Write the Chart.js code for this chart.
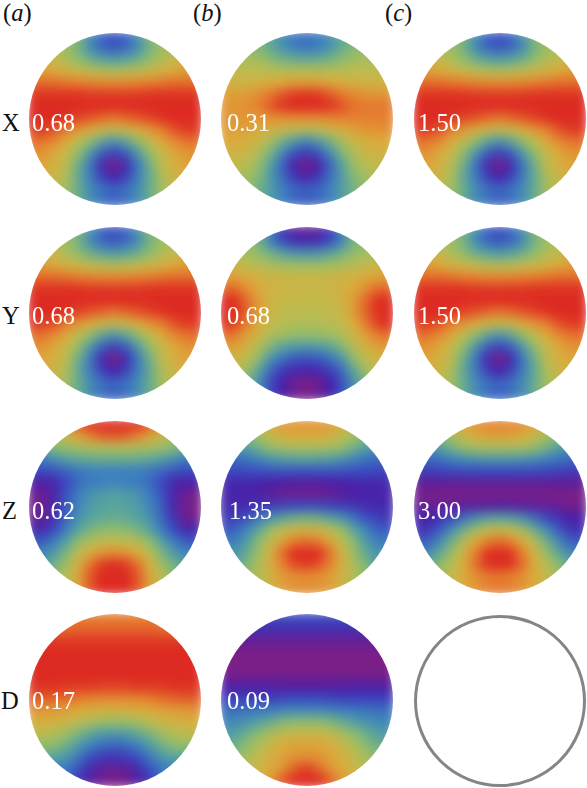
<!DOCTYPE html>
<html>
<head>
<meta charset="utf-8">
<script src="https://cdn.jsdelivr.net/npm/chart.js@4"></script>
<style>
  html, body { margin: 0; padding: 0; background: #fff; }
  #page { position: relative; width: 587px; height: 788px; overflow: hidden; font-family: "Liberation Serif", serif; }
  .disc { position: absolute; width: 172px; height: 172px; border-radius: 50%; overflow: hidden; }
  .disc canvas { position: absolute; left: -12px; top: -12px; filter: blur(5.5px); }
  .ring { position: absolute; left: 414px; top: 615px; width: 166px; height: 166px; border: 3px solid #858585; border-radius: 50%; }
  .txt { position: absolute; font-size: 24.5px; line-height: 24px; color: #111; white-space: nowrap; }
  .val { color: #fff; }
</style>
</head>
<body>
<div id="page"></div>
<script>
// colour index per grid cell: 0 purple ... 9 red
const columnHeads = ["(a)", "(b)", "(c)"];
const rowHeads = ["X", "Y", "Z", "D"];
const discLabels = [
  ["0.68", "0.31", "1.50"],
  ["0.68", "0.68", "1.50"],
  ["0.62", "1.35", "3.00"],
  ["0.17", "0.09", null]
];

const ramp = ["#7d1f85", "#4a1fa8", "#3a4cc0", "#3d80bf", "#55a3a0", "#8fbd6c", "#bdbc4f", "#dbab3c", "#e6802f", "#dd2a22"];

const fieldA = [
  [5.5,5.5,5.5,5.5,4.8,3.4,2.4,2,2.4,3.4,4.8,5.5,5.5,5.5,5.5],
  [5.5,5.5,5.5,5.3,4.5,3.3,2.5,2.2,2.5,3.3,4.5,5.3,5.5,5.5,5.5],
  [6.4,6.4,6.2,5.6,5,4.4,4,3.8,4,4.4,5,5.6,6.2,6.4,6.4],
  [7.4,7.3,7,6.6,6.3,6,5.8,5.7,5.8,6,6.3,6.6,7,7.3,7.4],
  [8.2,8.2,8.2,8.1,8,7.9,7.8,7.7,7.8,7.9,8,8.1,8.2,8.2,8.2],
  [8.9,8.9,8.9,8.9,8.9,8.8,8.8,8.8,8.8,8.8,8.9,8.9,8.9,8.9,8.9],
  [9,9,9,9,9,9,9,9,9,9,9,9,9,9,9],
  [9,9,9,8.9,8.7,8.5,8.3,8.1,8.3,8.5,8.7,8.9,9,9,9],
  [8.8,8.8,8.5,8,7.5,7,6.5,6.2,6.5,7,7.5,8,8.5,8.8,8.8],
  [8.2,8.1,7.7,7,6,5,4.1,3.6,4.1,5,6,7,7.7,8.1,8.2],
  [7.6,7.5,7,6.2,5,3.6,2.3,1.7,2.3,3.6,5,6.2,7,7.5,7.6],
  [7.2,7.1,6.7,5.9,4.4,2.8,1.2,0,1.2,2.8,4.4,5.9,6.7,7.1,7.2],
  [6.8,6.8,6.4,5.6,4.2,2.9,1.7,1,1.7,2.9,4.2,5.6,6.4,6.8,6.8],
  [6,6,6,5.3,4.3,3.3,2.7,2.4,2.7,3.3,4.3,5.3,6,6,6],
  [6,6,6,5.3,4.3,3.3,2.7,2.4,2.7,3.3,4.3,5.3,6,6,6]
];

const fieldBX = [
  [5,5,5,4.8,4.2,3.3,2.8,2.6,2.8,3.3,4.2,4.8,5,5,5],
  [5,5,5,4.8,4.2,3.5,3,2.8,3,3.5,4.2,4.8,5,5,5],
  [5.6,5.6,5.6,5.3,4.9,4.5,4.3,4.2,4.3,4.5,4.9,5.3,5.6,5.6,5.6],
  [6,6,6,6,5.9,5.9,5.9,5.9,5.9,5.9,5.9,6,6,6,6],
  [6.6,6.6,6.6,6.7,6.9,7.1,7.3,7.3,7.3,7.1,6.9,6.7,6.6,6.6,6.6],
  [7.3,7.3,7.4,7.7,8.1,8.5,8.8,8.9,8.8,8.5,8.1,7.8,7.6,7.5,7.5],
  [7.5,7.5,7.7,8,8.5,8.9,9,9,9,8.9,8.6,8.2,8.1,8.1,8.1],
  [7.5,7.5,7.5,7.5,7.6,7.7,7.8,7.8,7.8,7.9,8,8,8,8,8],
  [7.3,7.3,7.2,7,6.7,6.3,6,5.8,6,6.3,6.8,7.2,7.5,7.6,7.6],
  [7,7,6.8,6.3,5.5,4.5,3.7,3.2,3.7,4.5,5.5,6.3,6.8,7,7],
  [6.7,6.6,6.3,5.7,4.6,3.2,2.1,1.5,2.1,3.2,4.6,5.7,6.3,6.6,6.7],
  [6.2,6.2,5.9,5.1,3.9,2.4,0.9,0.1,0.9,2.4,3.9,5.1,5.9,6.2,6.2],
  [5.6,5.6,5.4,4.8,3.7,2.6,1.5,1,1.5,2.6,3.7,4.8,5.4,5.6,5.6],
  [5,5,5,4.5,3.8,3,2.5,2.3,2.5,3,3.8,4.5,5,5,5],
  [5,5,5,4.5,3.8,3,2.5,2.3,2.5,3,3.8,4.5,5,5,5]
];

const fieldBY = [
  [5,5,5,5,3,1.5,0.7,0.5,0.7,1.5,3,5,5,5,5],
  [5,5,5,4.5,3,2,1.4,1.3,1.4,2,3,4.5,5,5,5],
  [5.5,5.5,5.5,5,4.5,4,3.6,3.5,3.6,4,4.5,5,5.5,5.5,5.5],
  [6.3,6.3,6,5.8,5.6,5.4,5.3,5.3,5.3,5.4,5.6,5.8,6,6.3,6.3],
  [7.2,7.2,7,6.7,6.5,6.4,6.3,6.3,6.3,6.4,6.5,6.7,7,7.2,7.2],
  [8.3,8.2,7.6,7,6.6,6.5,6.4,6.4,6.4,6.5,6.6,7,7.6,8.2,8.3],
  [9,8.9,8.2,7.3,6.6,6.3,6.2,6.2,6.2,6.3,6.6,7.3,8.2,8.9,9],
  [9,8.9,8.3,7.2,6.4,6.1,6,6,6,6.1,6.4,7.2,8.3,8.9,9],
  [9,8.7,7.9,6.9,6.1,5.9,5.7,5.7,5.7,5.9,6.1,6.9,7.9,8.7,9],
  [8.2,8,7.2,6.4,5.7,5.3,5.1,5,5.1,5.3,5.7,6.4,7.2,8,8.2],
  [7.3,7.2,6.6,5.7,4.7,4,3.7,3.6,3.7,4,4.7,5.7,6.6,7.2,7.3],
  [6.6,6.5,6,4.9,3.5,2.7,2.2,2.1,2.2,2.7,3.5,4.9,6,6.5,6.6],
  [6,6,5.3,4,2.5,1.6,1.2,1.1,1.2,1.6,2.5,4,5.3,6,6],
  [5,5,4.5,3.4,2,1,0.3,0.1,0.3,1,2,3.4,4.5,5,5],
  [5,5,4.5,3.4,2,1,0.3,0.1,0.3,1,2,3.4,4.5,5,5]
];

const fieldAZ = [
  [7,7,7,7.5,8.5,9,9,9,9,9,8.5,7.5,7,7,7],
  [4.5,4.5,5.5,6.5,7.3,8,8.4,8.5,8.4,8,7.3,6.5,5.5,4.5,4.5],
  [4.5,4.5,5,5.3,5.5,5.7,5.8,5.8,5.8,5.7,5.5,5.3,5,4.5,4.5],
  [3,3,3.5,4,4.2,4.3,4.4,4.4,4.4,4.3,4.2,4,3.5,3,3],
  [2,2,2.2,2.5,2.8,3,3,3,3,3,2.8,2.5,2.2,2,2],
  [1,0.9,1.2,2,2.6,2.9,3,3.1,3,2.9,2.6,2,1.2,0.9,1],
  [0.3,0.4,1.2,2.2,3,3.5,3.8,3.9,3.8,3.5,3,2.2,1.2,0.4,0.2],
  [0.2,0.3,1.2,2.4,3.2,3.8,4,4.1,4,3.8,3.2,2.4,1.2,0.2,0],
  [0.4,0.5,1.5,2.6,3.5,4,4.2,4.3,4.2,4,3.5,2.6,1.5,0.4,0.2],
  [1.2,1.2,2,3,4,4.6,4.9,5,4.9,4.6,4,3,2,1.2,1.2],
  [2.2,2.3,3,4,5,5.7,6,6.1,6,5.7,5,4,3,2.3,2.2],
  [3.2,3.2,3.8,4.8,6,7,7.5,7.7,7.5,7,6,4.8,3.8,3.2,3.2],
  [4,4,4.6,5.4,6.8,8.2,8.8,9,8.8,8.2,6.8,5.4,4.6,4,4],
  [4.5,4.5,5,6,7.2,8.5,9,9,9,8.5,7.2,6,5,4.5,4.5],
  [4.5,4.5,5,6,7.2,8.5,9,9,9,8.5,7.2,6,5,4.5,4.5]
];

const fieldBZ = [
  [5,5,5,6,7,7.5,7.6,7.6,7.6,7.5,7,6,5,5,5],
  [4.5,4.5,5,5.5,6.2,6.8,7,7,7,6.8,6.2,5.5,5,4.5,4.5],
  [3.8,3.8,4,4.6,5.2,5.5,5.6,5.6,5.6,5.5,5.2,4.6,4,3.8,3.8],
  [2.6,2.6,2.8,3.2,3.6,3.9,4,4.1,4,3.9,3.6,3.2,2.8,2.6,2.6],
  [1.9,1.9,2,2.1,2.2,2.2,2.2,2.2,2.2,2.2,2.2,2.1,2,1.9,1.9],
  [1.2,1.2,1.2,1.1,1,0.9,0.8,0.8,0.8,0.9,1,1.1,1.2,1.2,1.2],
  [1.1,1.1,1,0.9,0.6,0.4,0.3,0.3,0.3,0.4,0.6,0.9,1,1.1,1.1],
  [1.2,1.2,1.3,1.5,1.6,1.8,1.9,2,1.9,1.8,1.6,1.5,1.3,1.2,1.2],
  [1.6,1.7,2.1,2.8,3.5,4,4.4,4.5,4.4,4,3.5,2.8,2.1,1.7,1.6],
  [2.2,2.4,3.2,4.1,5.2,6,6.4,6.5,6.4,6,5.2,4.1,3.2,2.4,2.2],
  [2.9,3,3.8,5,6.1,7.2,8,8.2,8,7.2,6.1,5,3.8,3,2.9],
  [3.6,3.6,4.3,5.4,6.7,8.2,9,9,9,8.2,6.7,5.4,4.3,3.6,3.6],
  [4,4,4.8,5.7,6.8,8,8.6,8.8,8.6,8,6.8,5.7,4.8,4,4],
  [4.5,4.5,5.2,5.8,6.7,7.3,7.6,7.7,7.6,7.3,6.7,5.8,5.2,4.5,4.5],
  [4.5,4.5,5.2,5.8,6.7,7.3,7.6,7.7,7.6,7.3,6.7,5.8,5.2,4.5,4.5]
];

const fieldCZ = [
  [5.5,5.5,6,6.5,7.2,7.7,7.9,8,7.9,7.7,7.2,6.5,6,5.5,5.5],
  [4.5,4.5,5,5.6,6.4,7,7.2,7.3,7.2,7,6.4,5.6,5,4.5,4.5],
  [3.5,3.5,4,4.6,5.2,5.5,5.6,5.6,5.6,5.5,5.2,4.6,4,3.5,3.5],
  [2.6,2.6,2.8,3.1,3.4,3.6,3.7,3.7,3.7,3.6,3.4,3.1,2.8,2.6,2.6],
  [1.7,1.7,1.8,1.9,2,2,2,2,2,2,2,1.9,1.8,1.7,1.7],
  [0.6,0.6,0.6,0.6,0.6,0.6,0.6,0.6,0.6,0.6,0.6,0.6,0.6,0.6,0.6],
  [0.1,0.1,0.1,0.1,0.1,0.1,0.1,0.1,0.1,0.1,0.1,0.1,0.1,0.1,0.1],
  [0.5,0.4,0.4,0.5,0.6,0.6,0.7,0.8,0.7,0.6,0.6,0.5,0.4,0.2,0.2],
  [1,1,1.4,1.9,2.6,3.3,3.8,4,3.8,3.3,2.6,1.9,1.4,1,1],
  [1.4,1.5,2.3,3.3,4.4,5.3,6,6.2,6,5.3,4.4,3.3,2.3,1.5,1.4],
  [2.2,2.4,3.3,4.5,5.8,7,7.9,8.2,7.9,7,5.8,4.5,3.3,2.4,2.2],
  [3.2,3.3,4.2,5.3,6.6,8,8.9,9,8.9,8,6.6,5.3,4.2,3.3,3.2],
  [4.3,4.3,5,5.9,7,8.2,8.9,9,8.9,8.2,7,5.9,5,4.3,4.3],
  [5,5,5.6,6.2,7,7.6,8,8.1,8,7.6,7,6.2,5.6,5,5],
  [5,5,5.6,6.2,7,7.6,8,8.1,8,7.6,7,6.2,5.6,5,5]
];

const fieldAD = [
  [8,8,8,8,8,8,8,8,8,8,8,8,8,8,8],
  [8.2,8.2,8.2,8.2,8.3,8.3,8.3,8.3,8.3,8.3,8.3,8.2,8.2,8.2,8.2],
  [8.8,8.8,8.8,8.8,8.8,8.8,8.8,8.8,8.8,8.8,8.8,8.8,8.8,8.8,8.8],
  [9,9,9,9,9,9,9,9,9,9,9,9,9,9,9],
  [9,9,9,9,9,9,9,9,9,9,9,9,9,9,9],
  [9,9,9,9,9,9,9,9,9,9,9,9,9,9,9],
  [8.9,8.9,8.9,8.8,8.8,8.8,8.7,8.7,8.7,8.8,8.8,8.8,8.9,8.9,8.9],
  [8.4,8.4,8.3,8.2,8,7.9,7.8,7.8,7.8,7.9,8,8.2,8.3,8.4,8.4],
  [7.5,7.4,7.3,7.2,7,6.8,6.7,6.7,6.7,6.8,7,7.2,7.3,7.4,7.5],
  [6.8,6.8,6.6,6.3,5.9,5.5,5.2,5.1,5.2,5.5,5.9,6.3,6.6,6.8,6.8],
  [6,6,5.7,5.2,4.6,4.1,3.7,3.6,3.7,4.1,4.6,5.2,5.7,6,6],
  [5,5,4.9,4.4,3.7,3,2.6,2.4,2.6,3,3.7,4.4,4.9,5,5],
  [4,4,4,3.5,2.8,2,1.6,1.4,1.6,2,2.8,3.5,4,4,4],
  [3,3,3,2.8,2,1.2,0.6,0.4,0.6,1.2,2,2.8,3,3,3],
  [3,3,3,2.5,1.5,0.7,0.2,0,0.2,0.7,1.5,2.5,3,3,3]
];

const fieldBD = [
  [2,2,2,2,2,2,2,2,2,2,2,2,2,2,2],
  [1.4,1.4,1.4,1.4,1.4,1.4,1.4,1.4,1.4,1.4,1.4,1.4,1.4,1.4,1.4],
  [0.5,0.5,0.5,0.5,0.5,0.5,0.5,0.5,0.5,0.5,0.5,0.5,0.5,0.5,0.5],
  [0.1,0.1,0.1,0.1,0.1,0.1,0.1,0.1,0.1,0.1,0.1,0.1,0.1,0.1,0.1],
  [0,0,0,0,0,0,0,0,0,0,0,0,0,0,0],
  [0.2,0.2,0.2,0.2,0.2,0.2,0.2,0.2,0.2,0.2,0.2,0.2,0.2,0.2,0.2],
  [0.9,0.9,0.9,0.9,0.9,0.8,0.8,0.8,0.8,0.8,0.9,0.9,0.9,0.9,0.9],
  [1.8,1.8,1.8,1.8,1.8,1.9,2,2,2,1.9,1.8,1.8,1.8,1.8,1.8],
  [2.7,2.7,2.8,2.9,3,3.2,3.3,3.3,3.3,3.2,3,2.9,2.8,2.7,2.7],
  [3.2,3.3,3.6,4,4.4,4.8,5,5,5,4.8,4.4,4,3.6,3.3,3.2],
  [3.8,3.9,4.5,5,5.6,6.1,6.4,6.4,6.4,6.1,5.6,5,4.5,3.9,3.8],
  [4.5,4.5,5,5.8,6.4,7,7.2,7.2,7.2,7,6.4,5.8,5,4.5,4.5],
  [5,5,5.6,6.2,6.8,7.2,7.6,7.7,7.6,7.2,6.8,6.2,5.6,5,5],
  [5.5,5.5,6,6.5,7,7.6,8.4,8.8,8.4,7.6,7,6.5,6,5.5,5.5],
  [5.5,5.5,6,6.8,7.5,8.5,9,9,9,8.5,7.5,6.8,6,5.5,5.5]
];

const fields = [
  [fieldA, fieldBX, fieldA],
  [fieldA, fieldBY, fieldA],
  [fieldAZ, fieldBZ, fieldCZ],
  [fieldAD, fieldBD, null]
];

// layout of the panels, px
const centresX = [115, 307, 500];
const centresY = [119, 313, 506.5, 700];
const headX = [3, 193, 385];
const rowHeadX = [2, 2, 2, 1];
const valueX = [[32, 227, 418], [32, 227, 418], [32, 229, 418], [32, 227]];
const valueBase = [131, 324, 519, 709];

const page = document.getElementById("page");

function hexToRgb(h) {
  return [1, 3, 5].map(i => parseInt(h.slice(i, i + 2), 16));
}

function colourOf(v) {
  const lo = Math.min(Math.floor(v), ramp.length - 2);
  const t = v - lo;
  const a = hexToRgb(ramp[lo]);
  const b = hexToRgb(ramp[lo + 1]);
  const c = a.map((p, i) => Math.round(p + (b[i] - p) * t));
  return `rgb(${c[0]},${c[1]},${c[2]})`;
}

function addText(text, x, base, cls, html) {
  const el = document.createElement("div");
  el.className = "txt " + cls;
  el.style.left = x + "px";
  el.style.top = base - 20 + "px";
  if (html) el.innerHTML = html; else el.textContent = text;
  page.appendChild(el);
}

function drawDisc(field, cx, cy) {
  const wrap = document.createElement("div");
  wrap.className = "disc";
  wrap.style.left = cx - 86 + "px";
  wrap.style.top = cy - 86 + "px";
  const cv = document.createElement("canvas");
  cv.width = 196;
  cv.height = 196;
  wrap.appendChild(cv);
  page.appendChild(wrap);

  const cells = [];
  const cols = [];
  field.forEach((row, r) => row.forEach((v, c) => {
    cells.push({ x: c + 0.5, y: r + 0.5 });
    cols.push(colourOf(v));
  }));

  new Chart(cv, {
    type: "scatter",
    data: {
      datasets: [{
        data: cells,
        pointStyle: "rect",
        pointRadius: 10,
        pointBorderWidth: 0,
        backgroundColor: cols
      }]
    },
    options: {
      responsive: false,
      animation: false,
      events: [],
      layout: { padding: 0 },
      plugins: { legend: { display: false }, tooltip: { enabled: false } },
      scales: {
        x: { type: "linear", min: 0, max: field.length, display: false },
        y: { type: "linear", min: 0, max: field.length, reverse: true, display: false }
      }
    }
  });
}

fields.forEach((row, r) => row.forEach((field, c) => {
  if (field) drawDisc(field, centresX[c], centresY[r]);
}));

const ring = document.createElement("div");
ring.className = "ring";
page.appendChild(ring);

columnHeads.forEach((h, i) => {
  const letter = h.slice(1, 2);
  addText(h, headX[i], 21, "", `(<i>${letter}</i>)`);
});
rowHeads.forEach((h, i) => addText(h, rowHeadX[i], valueBase[i], ""));
discLabels.forEach((row, r) => row.forEach((t, c) => {
  if (t) addText(t, valueX[r][c], valueBase[r], "val");
}));
</script>
</body>
</html>
